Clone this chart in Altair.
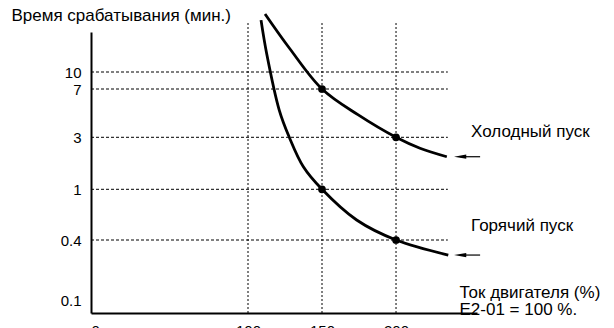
import altair as alt
import pandas as pd

# Curve data (motor current %, trip time in minutes)
cold_x = [111.5, 128.4, 150, 174.5, 200, 216.2, 234.3]
cold_y = [32.0, 15.85, 7.0, 4.44, 3.0, 2.38, 1.99]
hot_x = [108.8, 112.6, 121.1, 127.9, 137.4, 150, 173.4, 200, 235.3]
hot_y = [28.3, 14.5, 4.84, 3.0, 1.61, 1.0, 0.574, 0.4, 0.284]

dot_x = [150, 200, 150, 200]
dot_y = [7, 3, 1, 0.4]

grid_y = [10, 7, 3, 1, 0.4]
grid_x = [100, 150, 200]
y_ticks = [0.1, 0.4, 1, 3, 7, 10]
x_ticks = [0, 100, 150, 200]

labels = ["Холодный пуск", "Горячий пуск"]
label_y = [3.29, 0.515]
y_title = "Время срабатывания (мин.)"
x_title = ["Ток двигателя (%)", "E2-01 = 100 %."]

FONT = "Liberation Sans"
W, H = 386, 281

# schematic (non-uniform) scales, as in the original drawing
xs = alt.Scale(domain=[0, 100, 254.7], range=[0, 157, W], nice=False, zero=False)
ys = alt.Scale(type="log", domain=[0.076, 0.4, 1, 3, 7, 10, 22.3],
               range=[H, 208, 157.3, 105.3, 57, 40, 0], nice=False)

curves = pd.DataFrame(
    {"x": cold_x + hot_x, "y": cold_y + hot_y,
     "s": ["cold"] * len(cold_x) + ["hot"] * len(hot_x)}
)
dots = pd.DataFrame({"x": dot_x, "y": dot_y})
hgrid = pd.DataFrame({"y": grid_y, "x0": [0] * len(grid_y), "x1": [235] * len(grid_y)})
vgrid = pd.DataFrame({"x": grid_x, "y0": [0.076] * 3, "y1": [26.7] * 3})
arrows = pd.DataFrame({"y": [cold_y[-1], hot_y[-1]], "x0": [243.3, 243.3], "x1": [256.8, 256.8]})
texts = pd.DataFrame({"t": labels, "y": label_y, "x": [250.7, 250.7]})

xax = alt.Axis(values=x_ticks, grid=False, ticks=False, domainColor="black", domainWidth=2,
               labelFont=FONT, labelFontSize=15, labelColor="black", labelPadding=10,
               title=x_title, titleFont=FONT, titleFontSize=17, titleFontWeight="normal",
               titleColor="black", titleAlign="left", titleAnchor="start", titleBaseline="alphabetic",
               titleX=368, titleY=-15.5, titleLineHeight=17.4)
yax = alt.Axis(values=y_ticks, format="~g", grid=False, ticks=False, domainColor="black", domainWidth=2,
               labelFont=FONT, labelFontSize=15, labelColor="black", labelPadding=10,
               title=y_title, titleFont=FONT, titleFontSize=17, titleFontWeight="normal",
               titleColor="black", titleAngle=0, titleAlign="left", titleBaseline="middle",
               titleX=-80, titleY=-17)

base_h = alt.Chart(hgrid).mark_rule(color="black", strokeWidth=1, strokeDash=[3, 2]).encode(
    x=alt.X("x0:Q", scale=xs, axis=xax), x2="x1:Q", y=alt.Y("y:Q", scale=ys, axis=yax)
)
base_v = alt.Chart(vgrid).mark_rule(color="black", strokeWidth=1, strokeDash=[2, 2]).encode(
    x=alt.X("x:Q", scale=xs), y=alt.Y("y0:Q", scale=ys), y2="y1:Q"
)
lines = alt.Chart(curves).mark_line(color="black", strokeWidth=2.8, interpolate="catmull-rom").encode(
    x=alt.X("x:Q", scale=xs), y=alt.Y("y:Q", scale=ys), detail="s:N"
)
pts = alt.Chart(dots).mark_point(filled=True, color="black", size=60, opacity=1).encode(
    x=alt.X("x:Q", scale=xs), y=alt.Y("y:Q", scale=ys)
)
arr_l = alt.Chart(arrows).mark_rule(color="black", strokeWidth=1.2).encode(
    x=alt.X("x0:Q", scale=xs), x2="x1:Q", y=alt.Y("y:Q", scale=ys)
)
arr_h = alt.Chart(arrows).mark_point(
    filled=True, color="black", opacity=1, size=150, shape="M -1 0 L 1 -0.35 L 1 0.35 Z"
).encode(x=alt.X("x0:Q", scale=xs), y=alt.Y("y:Q", scale=ys))
txt = alt.Chart(texts).mark_text(font=FONT, fontSize=17, align="left", baseline="middle", color="black").encode(
    x=alt.X("x:Q", scale=xs), y=alt.Y("y:Q", scale=ys), text="t:N"
)

chart = alt.layer(base_h, base_v, lines, pts, arr_l, arr_h, txt).properties(
    width=W, height=H,
    autosize=alt.AutoSizeParams(type="none"),
    padding={"left": 83, "top": 24, "right": 129, "bottom": 15},
).configure_view(stroke=None)

chart.save("out.html", embed_options={"renderer": "svg", "actions": False})
